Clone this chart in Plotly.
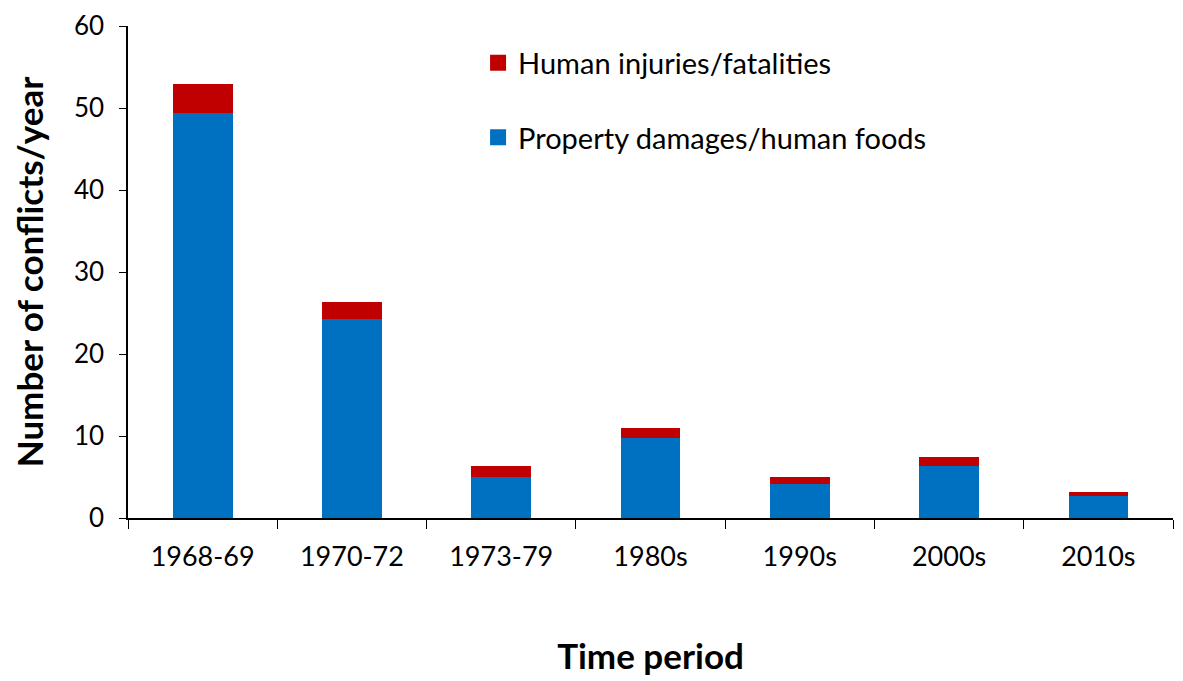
import plotly.graph_objects as go

periods = ["1968-69", "1970-72", "1973-79", "1980s", "1990s", "2000s", "2010s"]
property_foods = [49.4, 24.3, 5.0, 9.8, 4.1, 6.3, 2.7]
human_injuries = [3.5, 2.1, 1.3, 1.2, 0.9, 1.2, 0.5]
series_names = ["Human injuries/fatalities", "Property damages/human foods"]
series_colors = ["#C00000", "#0070C0"]

FONT = "Lato"

fig = go.Figure()
fig.add_trace(go.Bar(
    x=periods, y=property_foods, name=series_names[1],
    marker=dict(color=series_colors[1], line=dict(width=0)), showlegend=False,
))
fig.add_trace(go.Bar(
    x=periods, y=human_injuries, name=series_names[0],
    marker=dict(color=series_colors[0], line=dict(width=0)), showlegend=False,
))
# legend entries with larger square swatches
for i, (nm, col) in enumerate(zip(series_names, series_colors)):
    fig.add_trace(go.Scatter(
        x=[None], y=[None], mode="markers", name=nm,
        marker=dict(symbol="square", size=18, color=col),
        legendgroup=f"g{i}", legendrank=i + 1,
    ))

fig.update_layout(
    width=1183, height=681,
    barmode="stack", bargap=0.6,
    plot_bgcolor="white", paper_bgcolor="white",
    margin=dict(l=120, r=18, t=18, b=171),
    font=dict(family=FONT, size=27, color="black"),
    showlegend=True,
    legend=dict(
        x=0.335, y=0.977, xanchor="left", yanchor="top",
        traceorder="grouped", tracegroupgap=34,
        font=dict(family=FONT, size=29, color="black"),
        bgcolor="rgba(0,0,0,0)", itemwidth=30,
    ),
    xaxis=dict(
        automargin=False,
        showline=True, linecolor="black", linewidth=1.5,
        ticks="outside", tickson="boundaries", ticklen=9, tickcolor="black",
        tickfont=dict(size=27), ticklabelstandoff=14,
        title=dict(text="<b>Time period</b>", font=dict(size=35), standoff=73),
    ),
    yaxis=dict(
        automargin=False,
        range=[0, 60], dtick=10, showgrid=False, zeroline=False,
        showline=True, linecolor="black", linewidth=1.5,
        ticks="outside", ticklen=7, tickcolor="black",
        tickfont=dict(size=26), ticklabelstandoff=10, ticklabeloverflow="allow",
        title=dict(text="<b>Number of conflicts/year</b>", font=dict(size=35), standoff=27),
    ),
)

fig.write_html("out.html")
